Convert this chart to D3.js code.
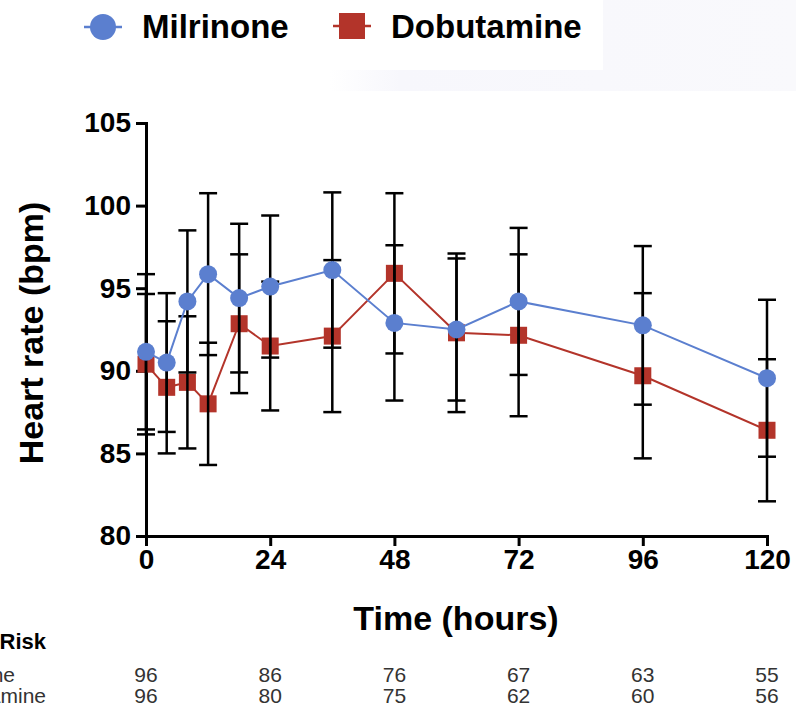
<!DOCTYPE html>
<html>
<head>
<meta charset="utf-8">
<script src="https://cdn.jsdelivr.net/npm/d3@7"></script>
<style>
  body { margin: 0; background: #fff; }
  svg { display: block; font-family: "Liberation Sans", Arial, sans-serif; }
</style>
</head>
<body>
<div class="chart"></div>
<script>
// Data
var hours = [0, 4, 8, 12, 18, 24, 36, 48, 60, 72, 96, 120];
var milrinoneMean = [91.15, 90.5, 94.2, 95.85, 94.4, 95.1, 96.1, 92.9, 92.5, 94.2, 92.75, 89.55];
var milrinoneSD = [4.7, 4.2, 4.3, 4.9, 4.5, 4.3, 4.7, 4.7, 4.3, 4.45, 4.8, 4.75];
var dobutamineMean = [90.4, 89.0, 89.3, 88.0, 92.85, 91.5, 92.1, 95.9, 92.3, 92.15, 89.7, 86.4];
var dobutamineSD = [4.25, 4.0, 4.0, 3.7, 4.2, 3.9, 4.6, 4.85, 4.8, 4.9, 5.0, 4.3];

var xTicks = [0, 24, 48, 72, 96, 120];
var yTicks = [80, 85, 90, 95, 100, 105];

var riskHours = [0, 24, 48, 72, 96, 120];
var milrinoneAtRisk = [96, 86, 76, 67, 63, 55];
var dobutamineAtRisk = [96, 80, 75, 62, 60, 56];

var blue = "#5b7fcf";
var red = "#b3342a";

var svgWidth = 796;
var svgHeight = 710;

var svg = d3.select(".chart")
  .append("svg")
  .attr("width", svgWidth)
  .attr("height", svgHeight);

// faint background scrap at the top right
var grad = svg.append("defs").append("linearGradient")
  .attr("id", "scrap")
  .attr("x1", "0").attr("x2", "1").attr("y1", "0").attr("y2", "0");
grad.append("stop").attr("offset", "0").attr("stop-color", "#ffffff");
grad.append("stop").attr("offset", "0.15").attr("stop-color", "#f7f7fc");
grad.append("stop").attr("offset", "1").attr("stop-color", "#f9f9fc");

svg.append("rect")
  .attr("x", 330).attr("y", 0)
  .attr("width", 466).attr("height", 91)
  .attr("fill", "url(#scrap)");
svg.append("rect")
  .attr("x", 0).attr("y", 0)
  .attr("width", 603).attr("height", 70)
  .attr("fill", "#fff");

// scales
var x = d3.scaleLinear().domain([0, 120]).range([146, 767]);
var y = d3.scaleLinear().domain([80, 105]).range([536, 123]);

// axes
var yAxis = svg.append("g")
  .attr("transform", "translate(146,0)")
  .call(d3.axisLeft(y).tickValues(yTicks).tickSize(10).tickPadding(5));

var xAxis = svg.append("g")
  .attr("transform", "translate(0,536)")
  .call(d3.axisBottom(x).tickValues(xTicks).tickSize(10).tickPadding(3));

[xAxis, yAxis].forEach(function(ax) {
  ax.select(".domain").attr("stroke", "#000").attr("stroke-width", 3);
  ax.selectAll(".tick line").attr("stroke", "#000").attr("stroke-width", 3);
  ax.selectAll(".tick text")
    .attr("fill", "#000")
    .style("font-size", "28px")
    .style("font-weight", "bold");
});

// axis titles
svg.append("text")
  .attr("transform", "translate(43,333) rotate(-90)")
  .attr("text-anchor", "middle")
  .style("font-size", "34px")
  .style("font-weight", "bold")
  .text("Heart rate (bpm)");

svg.append("text")
  .attr("x", 456)
  .attr("y", 630)
  .attr("text-anchor", "middle")
  .style("font-size", "34px")
  .style("font-weight", "bold")
  .text("Time (hours)");

// data rows
var milData = hours.map(function(h, i) { return { h: h, m: milrinoneMean[i], sd: milrinoneSD[i] }; });
var dobData = hours.map(function(h, i) { return { h: h, m: dobutamineMean[i], sd: dobutamineSD[i] }; });

var line = d3.line()
  .x(d => x(d.h))
  .y(d => y(d.m));

// dobutamine line and squares
svg.append("path")
  .datum(dobData)
  .attr("fill", "none")
  .attr("stroke", red)
  .attr("stroke-width", 2)
  .attr("d", line);

svg.selectAll(".dob")
  .data(dobData)
  .enter()
  .append("rect")
  .attr("class", "dob")
  .attr("x", d => x(d.h) - 8.5)
  .attr("y", d => y(d.m) - 8.5)
  .attr("width", 17)
  .attr("height", 17)
  .attr("fill", red);

// error bars (black) for both series
function errorBars(data) {
  var g = svg.append("g")
    .attr("stroke", "#000")
    .attr("stroke-width", 2.5);
  g.selectAll(".bar")
    .data(data)
    .enter()
    .append("line")
    .attr("x1", d => x(d.h))
    .attr("x2", d => x(d.h))
    .attr("y1", d => y(d.m - d.sd))
    .attr("y2", d => y(d.m + d.sd));
  g.selectAll(".capTop")
    .data(data)
    .enter()
    .append("line")
    .attr("x1", d => x(d.h) - 9)
    .attr("x2", d => x(d.h) + 9)
    .attr("y1", d => y(d.m + d.sd))
    .attr("y2", d => y(d.m + d.sd));
  g.selectAll(".capBottom")
    .data(data)
    .enter()
    .append("line")
    .attr("x1", d => x(d.h) - 9)
    .attr("x2", d => x(d.h) + 9)
    .attr("y1", d => y(d.m - d.sd))
    .attr("y2", d => y(d.m - d.sd));
}
errorBars(dobData);
errorBars(milData);

// milrinone line and circles
svg.append("path")
  .datum(milData)
  .attr("fill", "none")
  .attr("stroke", blue)
  .attr("stroke-width", 2)
  .attr("d", line);

svg.selectAll(".mil")
  .data(milData)
  .enter()
  .append("circle")
  .attr("class", "mil")
  .attr("cx", d => x(d.h))
  .attr("cy", d => y(d.m))
  .attr("r", 9)
  .attr("fill", blue);

// legend
var legend = svg.append("g");
legend.append("line")
  .attr("x1", 84).attr("x2", 122).attr("y1", 27).attr("y2", 27)
  .attr("stroke", blue).attr("stroke-width", 2.5);
legend.append("circle")
  .attr("cx", 103).attr("cy", 27).attr("r", 13)
  .attr("fill", blue);
legend.append("text")
  .attr("x", 142).attr("y", 38)
  .style("font-size", "33px").style("font-weight", "bold")
  .text("Milrinone");

legend.append("line")
  .attr("x1", 333).attr("x2", 371).attr("y1", 26).attr("y2", 26)
  .attr("stroke", red).attr("stroke-width", 2.5);
legend.append("rect")
  .attr("x", 339).attr("y", 13).attr("width", 26).attr("height", 26)
  .attr("fill", red);
legend.append("text")
  .attr("x", 391).attr("y", 38)
  .style("font-size", "33px").style("font-weight", "bold")
  .text("Dobutamine");

// number at risk table (row labels run off the left edge, as in the source)
svg.append("text")
  .attr("x", 46).attr("y", 649)
  .attr("text-anchor", "end")
  .style("font-size", "22px").style("font-weight", "bold")
  .text("Number at Risk");

svg.append("text")
  .attr("x", 15).attr("y", 682)
  .attr("text-anchor", "end")
  .attr("fill", "#333")
  .style("font-size", "21px")
  .text("Milrinone");

svg.append("text")
  .attr("x", 46).attr("y", 703)
  .attr("text-anchor", "end")
  .attr("fill", "#333")
  .style("font-size", "21px")
  .text("Dobutamine");

svg.selectAll(".riskMil")
  .data(milrinoneAtRisk)
  .enter()
  .append("text")
  .attr("x", (d, i) => x(riskHours[i]))
  .attr("y", 682)
  .attr("text-anchor", "middle")
  .attr("fill", "#333")
  .style("font-size", "21px")
  .text(d => d);

svg.selectAll(".riskDob")
  .data(dobutamineAtRisk)
  .enter()
  .append("text")
  .attr("x", (d, i) => x(riskHours[i]))
  .attr("y", 703)
  .attr("text-anchor", "middle")
  .attr("fill", "#333")
  .style("font-size", "21px")
  .text(d => d);
</script>
</body>
</html>
